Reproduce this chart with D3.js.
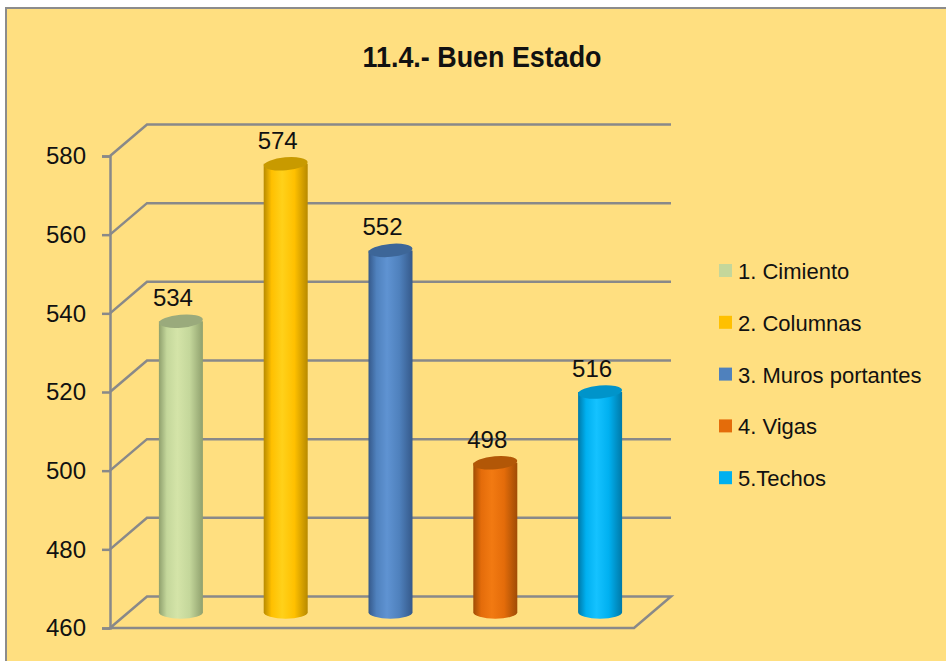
<!DOCTYPE html>
<html>
<head>
<meta charset="utf-8">
<script src="https://cdn.jsdelivr.net/npm/d3@7"></script>
<style>
  body { margin: 0; background: #fff; }
  text { font-family: "Liberation Sans", Arial, sans-serif; }
</style>
</head>
<body>
<div id="chart"></div>
<script>
// data
const categories = ["1. Cimiento", "2. Columnas", "3. Muros portantes", "4. Vigas", "5.Techos"];
const values = [534, 574, 552, 498, 516];
const yTicks = [460, 480, 500, 520, 540, 560, 580];
const chartTitle = "11.4.- Buen Estado";

const width = 946, height = 661;
// colours per bar: [edge, base, light, top]
const palette = [
  ["#8FA06D", "#C4D79B", "#D4E4A8", "#9AAA7C"],
  ["#B88A00", "#FFC000", "#FFD11A", "#C89A00"],
  ["#35598A", "#4F81BD", "#5F93D2", "#3D6698"],
  ["#A04C05", "#E46C0A", "#F27A12", "#B25707"],
  ["#0079A8", "#00B0F0", "#15C2FF", "#0094CA"],
];

const depthX = 37, depthY = -31.5;

const svg = d3
  .select("#chart")
  .append("svg")
  .attr("width", width)
  .attr("height", height);

svg
  .append("rect")
  .attr("x", 6)
  .attr("y", 8)
  .attr("width", 960)
  .attr("height", 670)
  .attr("fill", "#FFDF80")
  .attr("stroke", "#8C8C8C")
  .attr("stroke-width", 2);

svg
  .append("text")
  .attr("x", 482)
  .attr("y", 67)
  .attr("text-anchor", "middle")
  .attr("font-size", 29)
  .attr("font-weight", "bold")
  .attr("textLength", 239)
  .attr("lengthAdjust", "spacingAndGlyphs")
  .attr("fill", "#111")
  .text(chartTitle);

const y = d3.scaleLinear().domain([460, 580]).range([628, 156]);
const x = d3.scaleBand().domain(categories).range([110, 634]);

// back wall + side wall gridlines
const grid = svg.append("g").attr("fill", "none").attr("stroke", "#898989").attr("stroke-width", 2.5);
yTicks.forEach(function (t) {
  const fy = y(t);
  if (t === 460) {
    grid
      .append("path")
      .attr(
        "d",
        `M110,${fy}L${110 + depthX},${fy + depthY}L${634 + depthX},${fy + depthY}L634,${fy}Z`
      );
  } else {
    grid
      .append("path")
      .attr("d", `M110,${fy}L${110 + depthX},${fy + depthY}L${634 + depthX},${fy + depthY}`);
  }
});

// y axis
const axis = svg
  .append("g")
  .attr("transform", "translate(110,0)")
  .call(d3.axisLeft(y).tickValues(yTicks).tickSize(8).tickPadding(16));
axis.select(".domain").attr("stroke", "#898989").attr("stroke-width", 2.5);
axis.selectAll(".tick line").attr("stroke", "#898989").attr("stroke-width", 2.5);
axis
  .selectAll(".tick text")
  .attr("font-size", 24)
  .attr("fill", "#111")
  .attr("font-family", "Liberation Sans, Arial, sans-serif");

// gradients
const defs = svg.append("defs");
palette.forEach(function (p, i) {
  const g = defs
    .append("linearGradient")
    .attr("id", "cyl" + i)
    .attr("x1", "0%")
    .attr("x2", "100%");
  g.append("stop").attr("offset", "0%").attr("stop-color", p[0]);
  g.append("stop").attr("offset", "18%").attr("stop-color", p[1]);
  g.append("stop").attr("offset", "42%").attr("stop-color", p[2]);
  g.append("stop").attr("offset", "70%").attr("stop-color", p[1]);
  g.append("stop").attr("offset", "100%").attr("stop-color", p[0]);
});

const rx = 22, ry = 6.5;
const bars = svg
  .selectAll("g.bar")
  .data(values)
  .enter()
  .append("g")
  .attr("class", "bar");

bars.each(function (v, i) {
  const cx = x(categories[i]) + x.bandwidth() / 2 + depthX / 2;
  const top = y(v) + depthY / 2;
  const bot = y(460) + depthY / 2;
  const g = d3.select(this);
  g.append("path")
    .attr(
      "d",
      `M${cx - rx},${top}L${cx - rx},${bot}A${rx},${ry} 0 0 0 ${cx + rx},${bot}L${cx + rx},${top}Z`
    )
    .attr("fill", `url(#cyl${i})`);
  g.append("ellipse")
    .attr("cx", cx)
    .attr("cy", top)
    .attr("rx", rx)
    .attr("ry", ry)
    .attr("transform", `rotate(-5,${cx},${top})`)
    .attr("fill", palette[i][3]);
  g.append("text")
    .attr("x", cx - 8)
    .attr("y", top - 15)
    .attr("text-anchor", "middle")
    .attr("font-size", 24)
    .attr("fill", "#111")
    .text(v);
});

// legend
const legend = svg
  .selectAll("g.legend")
  .data(categories)
  .enter()
  .append("g")
  .attr("class", "legend")
  .attr("transform", function (d, i) {
    return `translate(719,${271 + i * 51.8})`;
  });
legend
  .append("rect")
  .attr("x", 0)
  .attr("y", -7)
  .attr("width", 13)
  .attr("height", 13)
  .attr("fill", function (d, i) {
    return palette[i][1];
  });
legend
  .append("text")
  .attr("x", 19)
  .attr("y", 8)
  .attr("font-size", 22)
  .attr("fill", "#111")
  .text(function (d) {
    return d;
  });
</script>
</body>
</html>
